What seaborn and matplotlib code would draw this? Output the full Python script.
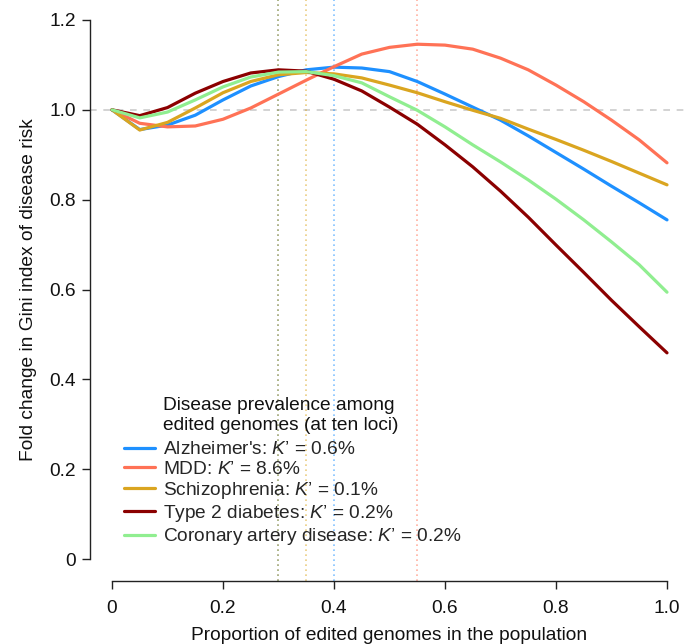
import numpy as np
import pandas as pd
import matplotlib
matplotlib.use("Agg")
import matplotlib.pyplot as plt
from matplotlib.lines import Line2D
import seaborn as sns

# ---------------- data ----------------
proportion = [0.00, 0.05, 0.10, 0.15, 0.20, 0.25, 0.30, 0.35, 0.40, 0.45, 0.50,
              0.55, 0.60, 0.65, 0.70, 0.75, 0.80, 0.85, 0.90, 0.95, 1.00]
alzheimers = [1.000, 0.956, 0.966, 0.988, 1.022, 1.053, 1.074, 1.089, 1.095, 1.093, 1.085,
              1.063, 1.035, 1.006, 0.977, 0.942, 0.905, 0.868, 0.830, 0.793, 0.755]
mdd = [1.000, 0.970, 0.962, 0.964, 0.979, 1.004, 1.035, 1.066, 1.096, 1.124, 1.139,
       1.146, 1.144, 1.135, 1.115, 1.089, 1.055, 1.018, 0.977, 0.933, 0.882]
schizophrenia = [1.000, 0.955, 0.972, 1.004, 1.038, 1.063, 1.078, 1.083, 1.080, 1.071, 1.055,
                 1.038, 1.018, 0.999, 0.981, 0.957, 0.934, 0.910, 0.885, 0.859, 0.833]
type2_diabetes = [1.000, 0.987, 1.005, 1.037, 1.063, 1.082, 1.089, 1.086, 1.068, 1.042, 1.006,
                  0.968, 0.922, 0.873, 0.819, 0.761, 0.699, 0.638, 0.576, 0.517, 0.459]
coronary = [1.000, 0.982, 0.995, 1.022, 1.051, 1.073, 1.084, 1.085, 1.076, 1.060, 1.029,
            0.999, 0.962, 0.922, 0.884, 0.844, 0.801, 0.755, 0.706, 0.655, 0.594]

diseases = ["Alzheimer's", "MDD", "Schizophrenia", "Type 2 diabetes", "Coronary artery disease"]
prevalence = ["0.6%", "8.6%", "0.1%", "0.2%", "0.2%"]
peak_x = [0.40, 0.55, 0.35, 0.30, 0.30]
colors = ["#1E90FF", "#FF7256", "#DAA520", "#8B0000", "#90EE90"]
series = [alzheimers, mdd, schizophrenia, type2_diabetes, coronary]

legend_title = "Disease prevalence among\nedited genomes (at ten loci)"
xlabel = "Proportion of edited genomes in the population"
ylabel = "Fold change in Gini index of disease risk"
xticks = [0, 0.2, 0.4, 0.6, 0.8, 1.0]
xticklabels = ["0", "0.2", "0.4", "0.6", "0.8", "1.0"]
yticks = [0, 0.2, 0.4, 0.6, 0.8, 1.0, 1.2]
yticklabels = ["0", "0.2", "0.4", "0.6", "0.8", "1.0", "1.2"]

df = pd.concat([pd.DataFrame({"x": proportion, "y": s, "disease": d})
                for d, s in zip(diseases, series)], ignore_index=True)

# ---------------- style ----------------
sns.set_style("ticks")
plt.rcParams["font.family"] = ["Liberation Sans", "DejaVu Sans"]
plt.rcParams["mathtext.fontset"] = "custom"
plt.rcParams["mathtext.rm"] = "Liberation Sans"
plt.rcParams["mathtext.it"] = "Liberation Sans:italic"

FS = 13.8
fig = plt.figure(figsize=(6.97, 6.44), dpi=100)
ax = fig.add_axes([89.8 / 697, 1 - 580.6 / 644, 599.4 / 697, 582.2 / 644])

# reference lines
ax.axhline(1.0, color="#CCCCCC", lw=1.2, ls=(0, (4, 4)), zorder=1)
for px, c in zip(peak_x, colors):
    ax.axvline(px, color=c, lw=1.2, ls=(0, (1, 2)), alpha=0.55, zorder=1)

palette = dict(zip(diseases, colors))
sns.lineplot(data=df, x="x", y="y", hue="disease", palette=palette,
             hue_order=diseases, lw=2.3, ax=ax, legend=False, zorder=3)

ax.set_xlim(-0.04, 1.04)
ax.set_ylim(-0.048, 1.248)
ax.set_xticks(xticks)
ax.set_xticklabels(xticklabels)
ax.set_yticks(yticks)
ax.set_yticklabels(yticklabels)
for s in ["top", "right"]:
    ax.spines[s].set_visible(False)
ax.spines["left"].set_bounds(0, 1.2)
ax.spines["bottom"].set_bounds(0, 1.0)
for s in ["left", "bottom"]:
    ax.spines[s].set_linewidth(1.0)
    ax.spines[s].set_color("#222222")
ax.tick_params(axis="both", length=6, width=1.0, colors="#222222",
               labelsize=FS, labelcolor="#111111")
ax.tick_params(axis="x", pad=8)
ax.tick_params(axis="y", pad=4)
ax.set_xlabel(xlabel, fontsize=FS, labelpad=7, color="#111111")
ax.set_ylabel(ylabel, fontsize=FS, labelpad=9, color="#111111")

# legend
handles = [Line2D([0], [0], color=c, lw=2.3) for c in colors]
labels = [f"{d}: " + r"$\mathit{K’}$" + f" = {p}" for d, p in zip(diseases, prevalence)]
leg = ax.legend(handles, labels, loc="upper left", frameon=False, fontsize=FS,
                bbox_to_anchor=(124 / 697, 1 - 441 / 644), bbox_transform=fig.transFigure,
                borderpad=0, borderaxespad=0, handlelength=1.6, handletextpad=0.42,
                labelspacing=0.11)
fig.text(163 / 697, 1 - 397 / 644, legend_title, fontsize=FS, ha="left", va="top",
         color="#111111", linespacing=1.2)

fig.savefig("out.png", dpi=100)
